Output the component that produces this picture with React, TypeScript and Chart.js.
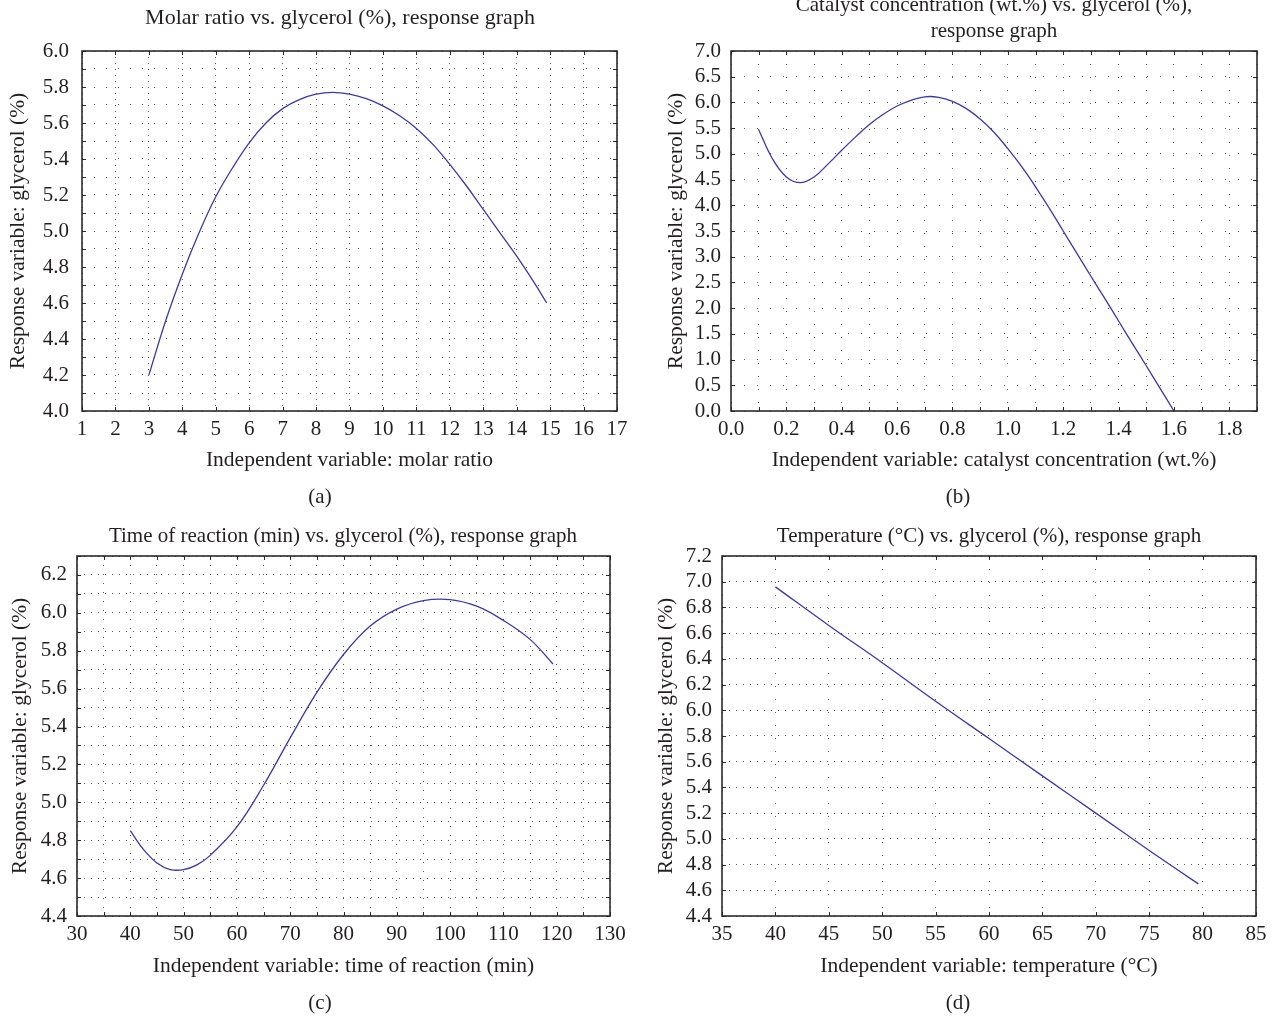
import React, { useEffect, useRef } from "react";
import { Chart, registerables } from "chart.js";

Chart.register(...registerables);

// ---------- data: (a) molar ratio ----------
const molarRatio = [3.0, 3.5, 4.0, 4.5, 5.0, 5.5, 6.0, 6.5, 7.0, 7.5, 8.0, 8.5, 9.0, 9.5, 10.0, 10.5, 11.0, 11.5, 12.0, 12.5, 13.0, 13.5, 14.0, 14.5, 14.9];
const glycerolVsMolar = [4.2, 4.5, 4.76, 4.99, 5.19, 5.35, 5.49, 5.6, 5.68, 5.73, 5.76, 5.77, 5.76, 5.735, 5.695, 5.64, 5.57, 5.48, 5.37, 5.25, 5.12, 4.99, 4.86, 4.72, 4.6];
const molarXTicks = ["1", "2", "3", "4", "5", "6", "7", "8", "9", "10", "11", "12", "13", "14", "15", "16", "17"];
const molarYTicks = ["4.0", "4.2", "4.4", "4.6", "4.8", "5.0", "5.2", "5.4", "5.6", "5.8", "6.0"];

// ---------- data: (b) catalyst concentration ----------
const catalystConc = [0.1, 0.15, 0.2, 0.25, 0.3, 0.35, 0.4, 0.45, 0.5, 0.55, 0.6, 0.65, 0.7, 0.75, 0.8, 0.85, 0.9, 0.95, 1.0, 1.05, 1.1, 1.15, 1.2, 1.25, 1.3, 1.35, 1.4, 1.45, 1.5, 1.55, 1.6];
const glycerolVsCatalyst = [5.47, 4.9, 4.55, 4.44, 4.55, 4.8, 5.07, 5.33, 5.57, 5.77, 5.93, 6.04, 6.11, 6.1, 6.02, 5.88, 5.68, 5.42, 5.1, 4.75, 4.36, 3.94, 3.5, 3.06, 2.62, 2.19, 1.75, 1.31, 0.88, 0.44, 0.0];
const catalystXTicks = ["0.0", "0.2", "0.4", "0.6", "0.8", "1.0", "1.2", "1.4", "1.6", "1.8"];
const catalystYTicks = ["0.0", "0.5", "1.0", "1.5", "2.0", "2.5", "3.0", "3.5", "4.0", "4.5", "5.0", "5.5", "6.0", "6.5", "7.0"];

// ---------- data: (c) time of reaction ----------
const reactionTime = [40, 42.5, 45, 47.5, 50, 52.5, 55, 60, 65, 70, 75, 80, 85, 90, 95, 100, 105, 110, 115, 119.3];
const glycerolVsTime = [4.85, 4.75, 4.68, 4.645, 4.645, 4.67, 4.72, 4.87, 5.09, 5.34, 5.58, 5.78, 5.93, 6.02, 6.065, 6.07, 6.035, 5.96, 5.86, 5.73];
const timeXTicks = ["30", "40", "50", "60", "70", "80", "90", "100", "110", "120", "130"];
const timeYTicks = ["4.4", "4.6", "4.8", "5.0", "5.2", "5.4", "5.6", "5.8", "6.0", "6.2"];

// ---------- data: (d) temperature ----------
const temperature = [40, 45, 50, 55, 60, 65, 70, 75, 79.6];
const glycerolVsTemp = [6.96, 6.66, 6.37, 6.07, 5.78, 5.49, 5.2, 4.91, 4.65];
const tempXTicks = ["35", "40", "45", "50", "55", "60", "65", "70", "75", "80", "85"];
const tempYTicks = ["4.4", "4.6", "4.8", "5.0", "5.2", "5.4", "5.6", "5.8", "6.0", "6.2", "6.4", "6.6", "6.8", "7.0", "7.2"];

const Y_LABEL = "Response variable: glycerol (%)";

// ---------- styling ----------
const FONT = "'Liberation Serif', 'Times New Roman', serif";
const TICK_SIZE = 21;
const AXIS_TITLE_SIZE = 21.5;
const TEXT = "#231f20";
const CURVE = "#3a3aa4";
const DOT = "#5a5a5a";
const FRAME = "#2a2a2a";
const X_AXIS_H = 70;

interface PanelCfg {
  id: string;
  box: { left: number; top: number; width: number; height: number };
  area: { left: number; right: number; top: number; bottom: number };
  title: string[];
  titleSize: number;
  titleX: number;
  titleY: number[];
  caption: string;
  captionX: number;
  captionY: number;
  xLabel: string;
  xs: number[];
  ys: number[];
  xMin: number; xMax: number; xStep: number; xTicks: string[]; xDec: number;
  yMin: number; yMax: number; yStep: number; yTicks: string[]; yDec: number;
  yTitlePad: number;
  xTitlePad: number;
  yTickPad: number;
  xTickPad: number;
  hDash: number[];
  vDash: number[];
}

const panels: PanelCfg[] = [
  {
    id: "a",
    box: { left: 0, top: 0, width: 640, height: 510 },
    area: { left: 82, right: 617, top: 51, bottom: 411 },
    title: ["Molar ratio vs. glycerol (%), response graph"],
    titleSize: 22,
    titleX: 340, titleY: [18],
    caption: "(a)", captionX: 320, captionY: 497,
    xLabel: "Independent variable: molar ratio",
    xs: molarRatio, ys: glycerolVsMolar,
    xMin: 1, xMax: 17, xStep: 1, xTicks: molarXTicks, xDec: 0,
    yMin: 4, yMax: 6, yStep: 0.1, yTicks: molarYTicks, yDec: 1,
    yTitlePad: 5, xTitlePad: 8, yTickPad: 13, xTickPad: 6,
    hDash: [1, 11], vDash: [1, 5],
  },
  {
    id: "b",
    box: { left: 640, top: -10, width: 635, height: 520 },
    area: { left: 91, right: 617, top: 61, bottom: 421 },
    title: ["Catalyst concentration (wt.%) vs. glycerol (%),", "response graph"],
    titleSize: 21,
    titleX: 354, titleY: [15, 41],
    caption: "(b)", captionX: 318, captionY: 507,
    xLabel: "Independent variable: catalyst concentration (wt.%)",
    xs: catalystConc, ys: glycerolVsCatalyst,
    xMin: 0, xMax: 1.9, xStep: 0.1, xTicks: catalystXTicks, xDec: 1,
    yMin: 0, yMax: 7, yStep: 0.5, yTicks: catalystYTicks, yDec: 1,
    yTitlePad: 23, xTitlePad: 8, yTickPad: 10, xTickPad: 6,
    hDash: [1, 12], vDash: [1, 12],
  },
  {
    id: "c",
    box: { left: 0, top: 510, width: 640, height: 511 },
    area: { left: 77, right: 610, top: 46, bottom: 406 },
    title: ["Time of reaction (min) vs. glycerol (%), response graph"],
    titleSize: 21,
    titleX: 343, titleY: [26],
    caption: "(c)", captionX: 320, captionY: 493,
    xLabel: "Independent variable: time of reaction (min)",
    xs: reactionTime, ys: glycerolVsTime,
    xMin: 30, xMax: 130, xStep: 5, xTicks: timeXTicks, xDec: 0,
    yMin: 4.4, yMax: 6.3, yStep: 0.1, yTicks: timeYTicks, yDec: 1,
    yTitlePad: 7, xTitlePad: 7, yTickPad: 10, xTickPad: 6,
    hDash: [1, 6], vDash: [1, 8],
  },
  {
    id: "d",
    box: { left: 640, top: 510, width: 635, height: 511 },
    area: { left: 82, right: 616, top: 46, bottom: 406 },
    title: ["Temperature (°C) vs. glycerol (%), response graph"],
    titleSize: 21,
    titleX: 349, titleY: [26],
    caption: "(d)", captionX: 318, captionY: 493,
    xLabel: "Independent variable: temperature (°C)",
    xs: temperature, ys: glycerolVsTemp,
    xMin: 35, xMax: 85, xStep: 5, xTicks: tempXTicks, xDec: 0,
    yMin: 4.4, yMax: 7.2, yStep: 0.2, yTicks: tempYTicks, yDec: 1,
    yTitlePad: 13, xTitlePad: 7, yTickPad: 10, xTickPad: 6,
    hDash: [1, 6], vDash: [1, 12],
  },
];

const decoPlugin = {
  id: "panelDeco",
  afterDraw(chart: any, _args: any, opts: any) {
    const { ctx, chartArea: ca, scales } = chart;
    const xs = scales.x;
    const ys = scales.y;
    ctx.save();
    // inward tick marks on all four sides
    ctx.strokeStyle = FRAME;
    ctx.lineWidth = 1;
    ctx.setLineDash([]);
    ctx.beginPath();
    for (const t of xs.ticks) {
      const px = Math.round(xs.getPixelForValue(t.value)) + 0.5;
      ctx.moveTo(px, ca.top);
      ctx.lineTo(px, ca.top + 4);
      ctx.moveTo(px, ca.bottom);
      ctx.lineTo(px, ca.bottom - 4);
    }
    for (const t of ys.ticks) {
      const py = Math.round(ys.getPixelForValue(t.value)) + 0.5;
      ctx.moveTo(ca.left, py);
      ctx.lineTo(ca.left + 4, py);
      ctx.moveTo(ca.right, py);
      ctx.lineTo(ca.right - 4, py);
    }
    ctx.stroke();
    // frame
    ctx.lineWidth = 1.6;
    ctx.strokeRect(ca.left, ca.top, ca.right - ca.left, ca.bottom - ca.top);
    // title and caption
    ctx.fillStyle = TEXT;
    ctx.textAlign = "center";
    ctx.textBaseline = "middle";
    ctx.font = `${opts.titleSize}px ${FONT}`;
    opts.title.forEach((line: string, i: number) => {
      ctx.fillText(line, opts.titleX, opts.titleY[i]);
    });
    ctx.font = `${TICK_SIZE}px ${FONT}`;
    ctx.fillText(opts.caption, opts.captionX, opts.captionY);
    ctx.restore();
  },
};

function PanelChart({ p }: { p: PanelCfg }) {
  const ref = useRef<HTMLCanvasElement | null>(null);
  useEffect(() => {
    if (!ref.current) return;
    const tickFont = { family: FONT, size: TICK_SIZE };
    const titleFont = { family: FONT, size: AXIS_TITLE_SIZE };
    const fmt = (labels: string[], dec: number) => (v: any) => {
      const s = Number(v).toFixed(dec);
      return labels.includes(s) ? s : "";
    };
    const chart = new Chart(ref.current, {
      type: "line",
      data: {
        datasets: [
          {
            data: p.xs.map((x, i) => ({ x, y: p.ys[i] })),
            borderColor: CURVE,
            borderWidth: 1.3,
            pointRadius: 0,
            fill: false,
            tension: 0.4,
          },
        ],
      },
      options: {
        animation: false,
        responsive: false,
        maintainAspectRatio: false,
        devicePixelRatio: 1,
        layout: {
          padding: {
            left: 0,
            right: p.box.width - p.area.right,
            top: p.area.top,
            bottom: p.box.height - p.area.bottom - X_AXIS_H,
          },
        },
        plugins: {
          legend: { display: false },
          title: { display: false },
          tooltip: { enabled: false },
          panelDeco: {
            title: p.title,
            titleSize: p.titleSize,
            titleX: p.titleX,
            titleY: p.titleY,
            caption: p.caption,
            captionX: p.captionX,
            captionY: p.captionY,
          },
        } as any,
        scales: {
          x: {
            type: "linear",
            min: p.xMin,
            max: p.xMax,
            afterFit: (s: any) => {
              s.height = X_AXIS_H;
            },
            ticks: {
              stepSize: p.xStep,
              autoSkip: false,
              maxRotation: 0,
              padding: p.xTickPad,
              color: TEXT,
              font: tickFont,
              callback: fmt(p.xTicks, p.xDec),
            },
            grid: { color: DOT, lineWidth: 1, drawTicks: false, tickLength: 0 },
            border: { display: false, dash: p.vDash },
            title: {
              display: true,
              text: p.xLabel,
              color: TEXT,
              font: titleFont,
              padding: { top: 0, bottom: p.xTitlePad },
            },
          },
          y: {
            type: "linear",
            min: p.yMin,
            max: p.yMax,
            afterFit: (s: any) => {
              s.width = p.area.left;
            },
            ticks: {
              stepSize: p.yStep,
              autoSkip: false,
              padding: p.yTickPad,
              color: TEXT,
              font: tickFont,
              callback: fmt(p.yTicks, p.yDec),
            },
            grid: { color: DOT, lineWidth: 1, drawTicks: false, tickLength: 0 },
            border: { display: false, dash: p.hDash },
            title: {
              display: true,
              text: Y_LABEL,
              color: TEXT,
              font: titleFont,
              padding: { top: p.yTitlePad, bottom: 0 },
            },
          },
        },
      } as any,
      plugins: [decoPlugin],
    });
    return () => chart.destroy();
  }, [p]);
  return (
    <canvas
      ref={ref}
      width={p.box.width}
      height={p.box.height}
      style={{
        position: "absolute",
        left: p.box.left,
        top: p.box.top,
        width: p.box.width,
        height: p.box.height,
      }}
    />
  );
}

export default function App() {
  return (
    <div
      style={{
        position: "absolute",
        left: 0,
        top: 0,
        width: 1275,
        height: 1021,
        background: "#ffffff",
        overflow: "hidden",
      }}
    >
      {panels.map((p) => (
        <PanelChart key={p.id} p={p} />
      ))}
    </div>
  );
}
